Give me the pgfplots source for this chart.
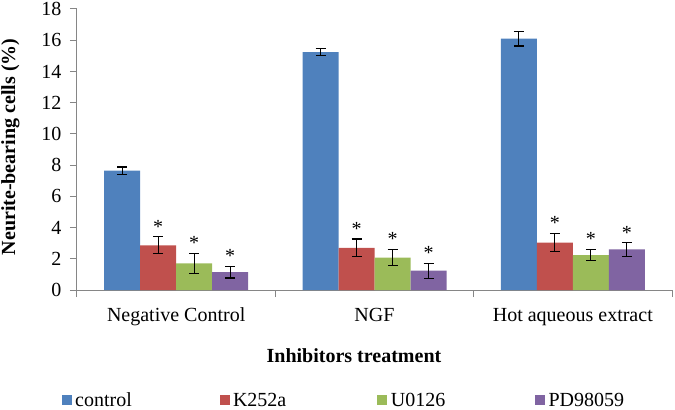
\documentclass[border=0pt]{standalone}
\usepackage{pgfplots}
\usepackage{pgfplotstable}
\pgfplotsset{compat=1.18}
\usepackage{fontspec}
\setmainfont{Liberation Serif}

\definecolor{cBlue}{RGB}{79,129,189}
\definecolor{cRed}{RGB}{192,80,77}
\definecolor{cGreen}{RGB}{155,187,89}
\definecolor{cPurple}{RGB}{128,100,162}
\definecolor{axisgray}{RGB}{134,134,134}

\pgfplotstableread{
x y e
0 7.65 0.23
1 15.23 0.23
2 16.10 0.47
}\ctrl
\pgfplotstableread{
x y e
0 2.86 0.55
1 2.70 0.57
2 3.04 0.60
}\kdata
\pgfplotstableread{
x y e
0 1.71 0.64
1 2.08 0.52
2 2.24 0.36
}\udata
\pgfplotstableread{
x y e
0 1.15 0.38
1 1.24 0.48
2 2.60 0.43
}\pdata

\newcommand{\chartfont}{\fontsize{20}{24}\selectfont}

\begin{document}
\begin{tikzpicture}
\begin{axis}[
  name=ax,
  scale only axis, width=595pt, height=281pt,
  xmin=-0.5, xmax=2.5, ymin=0, ymax=18,
  ytick={0,2,...,18},
  axis x line*=bottom, axis y line*=left,
  axis line style={draw=axisgray, line width=1pt},
  tick align=outside, major tick length=7pt,
  tick style={draw=axisgray, line width=1pt},
  xtick={-0.5,0.5,1.5,2.5}, xticklabels={},
  extra x ticks={0,1,2},
  extra x tick labels={Negative Control,NGF,Hot aqueous extract},
  extra x tick style={major tick length=0pt, tick label style={anchor=base, yshift=-31pt}},
  /pgf/number format/assume math mode=true,
  tick label style={font=\chartfont, black},
  yticklabel style={xshift=-5pt},
  ylabel={Neurite-bearing cells (\%)},
  ylabel style={at={(rel axis cs:-0.1118,0.509)}, anchor=center, font=\bfseries\chartfont},
  xlabel={Inhibitors treatment},
  xlabel style={at={(rel axis cs:0.4655,0)}, anchor=base, yshift=-72pt, font=\bfseries\chartfont},
  ybar, bar width=0.1815,
  clip=false,
  error bars/y dir=both, error bars/y explicit,
  error bars/error bar style={black, line width=1.1pt},
  error bars/error mark options={black, rotate=90, mark size=5pt, line width=1.1pt},
  legend style={at={(rel axis cs:-0.0257,-0.3932)}, anchor=west, draw=none, fill=none,
    inner sep=0pt, outer sep=0pt, font=\chartfont, legend columns=4,
    nodes={inner sep=0pt},
    /tikz/every odd column/.append style={column sep=3.5pt}},
  legend cell align=left,
  legend image code/.code={\fill[#1] (0pt,-5pt) rectangle (10pt,5pt);},
  star/.style={visualization depends on={\thisrow{e} \as \myerr},
    nodes near coords={*},
    every node near coord/.append style={font=\chartfont, black, anchor=south, yshift=\myerr*15.611pt}},
]
\addplot[fill=cBlue, draw=none, bar shift=-0.27225] table[x=x, y=y, y error=e] {\ctrl};
\addlegendentry{\makebox[144.3pt][l]{control}}
\addplot[fill=cRed, draw=none, bar shift=-0.09075, star] table[x=x, y=y, y error=e] {\kdata};
\addlegendentry{\makebox[144.3pt][l]{K252a}}
\addplot[fill=cGreen, draw=none, bar shift=0.09075, star] table[x=x, y=y, y error=e] {\udata};
\addlegendentry{\makebox[144.3pt][l]{U0126}}
\addplot[fill=cPurple, draw=none, bar shift=0.27225, star] table[x=x, y=y, y error=e] {\pdata};
\addlegendentry{PD98059}
\end{axis}
\pgfresetboundingbox
\path ([shift={(-77pt,-119pt)}]ax.south west) rectangle ([shift={(3pt,9pt)}]ax.north east);
\end{tikzpicture}
\end{document}
